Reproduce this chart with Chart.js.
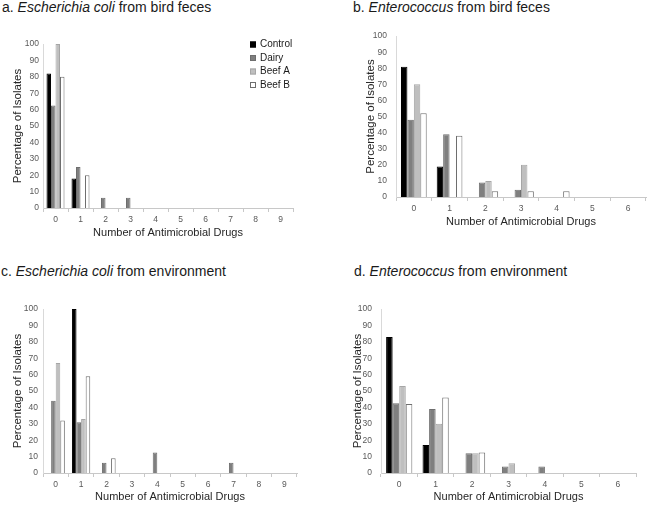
<!DOCTYPE html>
<html>
<head>
<meta charset="utf-8">
<script src="https://cdn.jsdelivr.net/npm/chart.js@4.4.1/dist/chart.umd.min.js"></script>
<style>
body { margin: 0; background: #fff; }
#page { position: relative; width: 647px; height: 505px; overflow: hidden; font-family: "Liberation Sans", Arial, sans-serif; }
.ttl { position: absolute; font-size: 14px; line-height: 14px; color: #1a1a1a; white-space: nowrap; }
canvas { position: absolute; }
</style>
</head>
<body>
<div id="page">
  <div class="ttl" style="left:2px;top:0px">a. <i>Escherichia coli</i> from bird feces</div>
  <div class="ttl" style="left:353px;top:0px">b. <i>Enterococcus</i> from bird feces</div>
  <div class="ttl" style="left:1px;top:264px">c. <i>Escherichia coli</i> from environment</div>
  <div class="ttl" style="left:354px;top:264px">d. <i>Enterococcus</i> from environment</div>
  <canvas id="chartA" width="323" height="228" style="left:0px;top:22px"></canvas>
  <canvas id="chartB" width="324" height="228" style="left:323px;top:22px"></canvas>
  <canvas id="chartC" width="323" height="225" style="left:0px;top:280px"></canvas>
  <canvas id="chartD" width="324" height="225" style="left:323px;top:280px"></canvas>
</div>
<script>
// number of drugs on the x axis
const drugsEcoli = ['0', '1', '2', '3', '4', '5', '6', '7', '8', '9'];
const drugsEnt = ['0', '1', '2', '3', '4', '5', '6'];
const groups = ['Control', 'Dairy', 'Beef A', 'Beef B'];

// a. E. coli from bird feces
const ecoliBirdControl = [82, 18, 0, 0, 0, 0, 0, 0, 0, 0];
const ecoliBirdDairy = [62.5, 25, 6.25, 6.25, 0, 0, 0, 0, 0, 0];
const ecoliBirdBeefA = [100, 0, 0, 0, 0, 0, 0, 0, 0, 0];
const ecoliBirdBeefB = [80, 20, 0, 0, 0, 0, 0, 0, 0, 0];

// b. Enterococcus from bird feces
const entBirdControl = [81, 19, 0, 0, 0, 0, 0];
const entBirdDairy = [48, 39, 9, 4.5, 0, 0, 0];
const entBirdBeefA = [70, 0, 10, 20, 0, 0, 0];
const entBirdBeefB = [52, 38, 3.5, 3.5, 3.5, 0, 0];

// c. E. coli from environment
const ecoliEnvControl = [0, 100, 0, 0, 0, 0, 0, 0, 0, 0];
const ecoliEnvDairy = [44, 31, 6.25, 0, 12.5, 0, 0, 6.25, 0, 0];
const ecoliEnvBeefA = [67, 33, 0, 0, 0, 0, 0, 0, 0, 0];
const ecoliEnvBeefB = [32, 59, 9, 0, 0, 0, 0, 0, 0, 0];

// d. Enterococcus from environment
const entEnvControl = [83, 17, 0, 0, 0, 0, 0];
const entEnvDairy = [42.5, 39, 12, 4, 4, 0, 0];
const entEnvBeefA = [53, 30, 12, 6, 0, 0, 0];
const entEnvBeefB = [42, 46, 12.5, 0, 0, 0, 0];

const fills = ['#000000', '#7f7f7f', '#bfbfbf', '#ffffff'];
const edges = ['#000000', '#6e6e6e', '#a6a6a6', '#6e6e6e'];

Chart.defaults.font.family = '"Liberation Sans", Arial, sans-serif';
Chart.defaults.animation = false;

// legend drawn in the upper right of the plot (only panel a has one)
const cornerLegend = {
    id: 'cornerLegend',
    afterDraw(chart) {
        const ctx = chart.ctx;
        const x = chart.chartArea.right - 43;
        let y = chart.chartArea.top + 0.5;
        ctx.save();
        ctx.font = '10px "Liberation Sans", Arial, sans-serif';
        ctx.textBaseline = 'middle';
        chart.data.datasets.forEach(ds => {
            ctx.fillStyle = ds.backgroundColor;
            ctx.fillRect(x, y - 3, 6, 6);
            ctx.strokeStyle = ds.borderColor;
            ctx.lineWidth = 1;
            ctx.strokeRect(x + 0.5, y - 2.5, 5, 5);
            ctx.fillStyle = '#1a1a1a';
            ctx.fillText(ds.label, x + 10, y);
            y += 13.5;
        });
        ctx.restore();
    }
};

// frame = canvas position on the page, t = where the plot sits on the page
function drawPanel(id, frame, t, labels, series, withLegend) {
    const padL = t.yTitleX - frame.x - 6.9;
    const yWidth = t.left - frame.x - padL;
    const xBottom = t.xTitleY - frame.y + 6.6;
    const xHeight = xBottom - (t.bottom - frame.y);

    new Chart(document.getElementById(id), {
        type: 'bar',
        data: {
            labels: labels,
            datasets: series.map((vals, i) => ({
                label: groups[i],
                data: vals,
                backgroundColor: fills[i],
                borderColor: edges[i],
                borderWidth: 1,
                categoryPercentage: 0.72,
                barPercentage: 1.0
            }))
        },
        options: {
            responsive: false,
            layout: {
                padding: {
                    left: padL,
                    right: frame.x + frame.w - t.right,
                    top: t.top - frame.y,
                    bottom: frame.h - xBottom
                }
            },
            plugins: {
                legend: { display: false },
                tooltip: { enabled: false }
            },
            scales: {
                x: {
                    grid: { drawOnChartArea: false, tickLength: 4, color: '#c8c8c8' },
                    border: { color: '#c8c8c8' },
                    ticks: { font: { size: 8.5 }, color: '#595959', padding: 3, maxRotation: 0 },
                    title: { display: true, text: 'Number of Antimicrobial Drugs', font: { size: 11 }, color: '#262626', padding: 0 },
                    afterFit: s => { s.height = xHeight; }
                },
                y: {
                    min: 0,
                    max: 100,
                    grid: { display: false, drawTicks: false },
                    border: { color: '#d9d9d9' },
                    ticks: { stepSize: 10, font: { size: 8.5 }, color: '#595959', padding: t.gap },
                    title: { display: true, text: 'Percentage of Isolates', font: { size: 11.5 }, color: '#262626', padding: 0 },
                    afterFit: s => { s.width = yWidth; }
                }
            }
        },
        plugins: withLegend ? [cornerLegend] : []
    });
}

drawPanel('chartA', { x: 0, y: 22, w: 323, h: 228 },
    { left: 43, right: 293, top: 44, bottom: 208, yTitleX: 18, xTitleY: 233, gap: 4 },
    drugsEcoli, [ecoliBirdControl, ecoliBirdDairy, ecoliBirdBeefA, ecoliBirdBeefB], true);

drawPanel('chartB', { x: 323, y: 22, w: 324, h: 228 },
    { left: 396, right: 646, top: 33, bottom: 197, yTitleX: 371, xTitleY: 222, gap: 9 },
    drugsEnt, [entBirdControl, entBirdDairy, entBirdBeefA, entBirdBeefB], false);

drawPanel('chartC', { x: 0, y: 280, w: 323, h: 225 },
    { left: 43, right: 297, top: 309, bottom: 473, yTitleX: 18, xTitleY: 497, gap: 5 },
    drugsEcoli, [ecoliEnvControl, ecoliEnvDairy, ecoliEnvBeefA, ecoliEnvBeefB], false);

drawPanel('chartD', { x: 323, y: 280, w: 324, h: 225 },
    { left: 381, right: 636, top: 309, bottom: 473, yTitleX: 358, xTitleY: 497, gap: 9 },
    drugsEnt, [entEnvControl, entEnvDairy, entEnvBeefA, entEnvBeefB], false);
</script>
</body>
</html>
